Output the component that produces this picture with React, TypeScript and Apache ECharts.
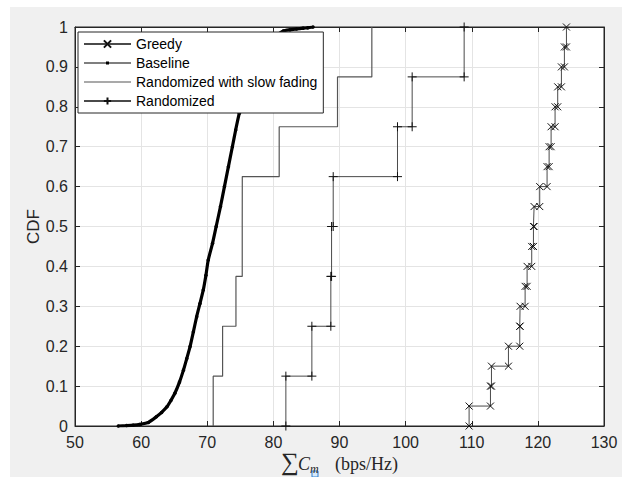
import React, { useEffect, useRef } from "react";
import * as echarts from "echarts";

// ---- data ----
const xMin = 50;
const xMax = 130;
const xStep = 10;
const yMin = 0;
const yMax = 1;
const yStep = 0.1;

const seriesNames = ["Greedy", "Baseline", "Randomized with slow fading", "Randomized"];

// empirical samples (sorted) of each scheme
const greedySamples = [
  109.6, 112.83, 112.98, 115.55, 117.26, 117.31, 118.07, 118.37, 119.07, 119.33,
  119.43, 120.28, 121.39, 121.7, 122.0, 122.6, 123.0, 123.56, 124.01, 124.32,
];
const slowFadingSamples = [70.9, 72.32, 74.34, 75.29, 75.3, 80.88, 89.7, 94.89];
const randomizedSamples = [81.89, 85.82, 88.69, 88.8, 89.05, 98.77, 100.99, 108.85];

// baseline CDF (dense curve) read as points
const baselineX = [
  56.55, 57.8, 58.8, 59.8, 61.1, 62.3, 63.1, 63.9, 64.5, 65.1, 65.8, 66.4, 66.9, 67.4,
  67.9, 68.4, 68.9, 69.4, 69.8, 70.15, 70.8, 71.35, 72.0, 72.6, 73.2, 73.8, 74.3,
  74.85, 75.9, 77.1, 78.8, 80.6, 81.5, 82.5, 83.5, 84.5, 85.2, 86.0,
];
const baselineCdf = [
  0, 0.001, 0.002, 0.004, 0.009, 0.023, 0.034, 0.048, 0.064, 0.082, 0.11, 0.14, 0.169,
  0.199, 0.236, 0.274, 0.307, 0.341, 0.378, 0.416, 0.458, 0.5, 0.55, 0.6, 0.65, 0.7,
  0.742, 0.784, 0.85, 0.9, 0.95, 0.98, 0.99, 0.993, 0.995, 0.997, 0.998, 1,
];

const X_SYMBOL = "path://M0,0L10,10M10,0L0,10";
const PLUS_SYMBOL = "path://M5,0L5,10M0,5L10,5";
const LINE_DOT_ICON = "path://M0,2L47,2L47,3L0,3ZM22,1L25,1L25,4L22,4Z";
const LINE_ICON = "path://M0,0L47,0L47,1.1L0,1.1Z";

function ecdfStairs(samples: number[]): number[][] {
  const s = [...samples].sort((a, b) => a - b);
  const n = s.length;
  const pts: number[][] = [];
  s.forEach((v, i) => {
    pts.push([v, i / n]);
    pts.push([v, (i + 1) / n]);
  });
  return pts;
}

const AX = "#262626";
const SANS = "'Liberation Sans', Arial, Helvetica, sans-serif";
const SERIF = "'Liberation Serif', 'Times New Roman', serif";

export default function App() {
  const ref = useRef<HTMLDivElement>(null);

  useEffect(() => {
    if (!ref.current) return;
    const chart = echarts.init(ref.current, undefined, { renderer: "svg" });

    const axisCommon = {
      axisLine: { show: true, onZero: false, lineStyle: { color: AX, width: 1 } },
      axisTick: { show: true, inside: true, length: 5, lineStyle: { color: AX } },
    };

    const option: any = {
      animation: false,
      backgroundColor: "#ffffff",
      graphic: [
        {
          type: "rect",
          z: -100,
          silent: true,
          shape: { x: 10, y: 7, width: 612, height: 470 },
          style: { fill: "#f0f0f0" },
        },
        {
          type: "text",
          z: 10,
          left: 281,
          top: 449,
          style: { text: "∑", font: `25px ${SERIF}`, fill: "#262626" },
        },
        {
          type: "text",
          z: 10,
          left: 298,
          top: 455,
          style: { text: "C", font: `italic 18px ${SERIF}`, fill: "#262626" },
        },
        {
          type: "text",
          z: 12,
          left: 310,
          top: 463,
          style: { text: "m", font: `italic 12px ${SERIF}`, fill: "#262626" },
        },
        {
          type: "text",
          z: 10,
          left: 335,
          top: 455,
          style: { text: "(bps/Hz)", font: `18px ${SERIF}`, fill: "#262626" },
        },
        {
          type: "rect",
          z: 11,
          shape: { x: 312, y: 471, width: 6, height: 6 },
          style: { fill: "#d8e9f9", stroke: "#2f80d1", lineWidth: 1 },
        },
      ],
      grid: {
        left: 75,
        top: 27,
        width: 529,
        height: 399,
        show: true,
        backgroundColor: "#ffffff",
        borderColor: AX,
        borderWidth: 1,
      },
      legend: {
        orient: "vertical",
        left: 78,
        top: 32,
        padding: [5, 6, 5, 5],
        itemWidth: 47,
        itemHeight: 9,
        itemGap: 5,
        backgroundColor: "#ffffff",
        borderColor: AX,
        borderWidth: 1,
        textStyle: { fontSize: 14, color: "#000", fontFamily: SANS },
        data: [
          { name: seriesNames[0] },
          { name: seriesNames[1], icon: LINE_DOT_ICON },
          { name: seriesNames[2], icon: LINE_ICON },
          { name: seriesNames[3] },
        ],
      },
      xAxis: [
        {
          type: "value",
          min: xMin,
          max: xMax,
          interval: xStep,
          position: "bottom",
          ...axisCommon,
          axisLabel: { color: AX, fontSize: 16, fontFamily: SANS, margin: 8 },
          splitLine: { show: true, lineStyle: { color: "#e4e4e4", width: 1 } },
        },
        {
          type: "value",
          min: xMin,
          max: xMax,
          interval: xStep,
          position: "top",
          ...axisCommon,
          axisLabel: { show: false },
          splitLine: { show: false },
        },
      ],
      yAxis: [
        {
          type: "value",
          min: yMin,
          max: yMax,
          interval: yStep,
          position: "left",
          ...axisCommon,
          axisLabel: {
            color: AX,
            fontSize: 16,
            fontFamily: SANS,
            margin: 7,
            formatter: (v: number) => String(Number(v.toFixed(1))),
          },
          splitLine: { show: true, lineStyle: { color: "#e4e4e4", width: 1 } },
          name: "CDF",
          nameLocation: "middle",
          nameGap: 33,
          nameMoveOverlap: false,
          nameTextStyle: { color: AX, fontSize: 17, fontFamily: SANS },
        },
        {
          type: "value",
          min: yMin,
          max: yMax,
          interval: yStep,
          position: "right",
          ...axisCommon,
          axisLabel: { show: false },
          splitLine: { show: false },
        },
      ],
      series: [
        {
          name: "Greedy",
          type: "line",
          data: ecdfStairs(greedySamples),
          symbol: X_SYMBOL,
          symbolSize: 7,
          showAllSymbol: true,
          lineStyle: { color: "#4a4a4a", width: 1 },
          itemStyle: { color: "#111", borderColor: "#111", borderWidth: 1 },
          z: 3,
        },
        {
          name: "Baseline",
          type: "line",
          data: baselineX.map((x, i) => [x, baselineCdf[i]]),
          symbol: "circle",
          symbolSize: 3.5,
          showAllSymbol: true,
          smooth: 0.2,
          lineStyle: { color: "#000", width: 3.2 },
          itemStyle: { color: "#000", borderColor: "#000", borderWidth: 0 },
          z: 3,
        },
        {
          name: "Randomized with slow fading",
          type: "line",
          data: ecdfStairs(slowFadingSamples),
          symbol: "none",
          lineStyle: { color: "#555", width: 1.2 },
          itemStyle: { color: "#555" },
          z: 2,
        },
        {
          name: "Randomized",
          type: "line",
          data: ecdfStairs(randomizedSamples),
          symbol: PLUS_SYMBOL,
          symbolSize: 9,
          showAllSymbol: true,
          lineStyle: { color: "#4a4a4a", width: 1 },
          itemStyle: { color: "#111", borderColor: "#111", borderWidth: 1 },
          z: 3,
        },
      ],
    };

    chart.setOption(option);
    return () => chart.dispose();
  }, []);

  return (
    <div
      ref={ref}
      style={{ position: "absolute", left: 0, top: 0, width: 628, height: 477 }}
    />
  );
}
